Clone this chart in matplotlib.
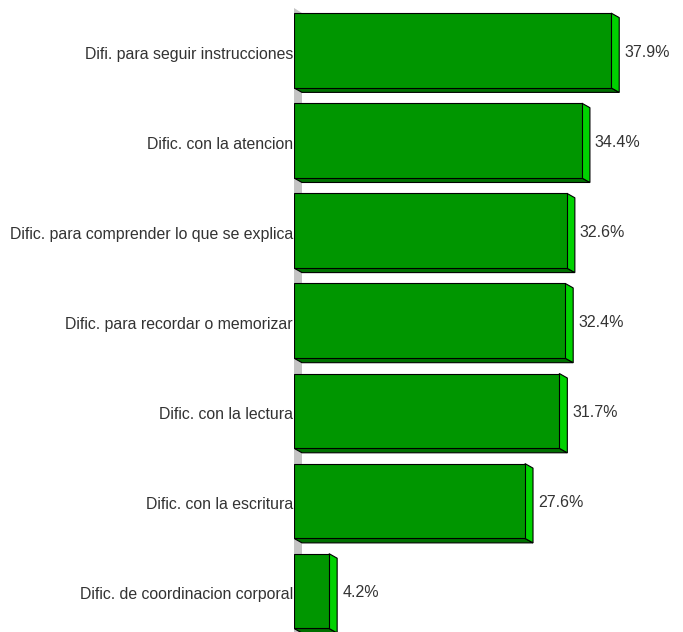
import matplotlib
matplotlib.use("Agg")
import matplotlib.pyplot as plt
from matplotlib.patches import Polygon, Rectangle

categorias = [
    "Difi. para seguir instrucciones",
    "Dific. con la atencion",
    "Dific. para comprender lo que se explica",
    "Dific. para recordar o memorizar",
    "Dific. con la lectura",
    "Dific. con la escritura",
    "Dific. de coordinacion corporal",
]
porcentajes = [37.9, 34.4, 32.6, 32.4, 31.7, 27.6, 4.2]

plt.rcParams["font.family"] = ["Liberation Sans", "DejaVu Sans"]

W, H = 683, 632
fig = plt.figure(figsize=(W / 100, H / 100), dpi=100)
# ejes: x=0 en el pixel 294, alto completo
ax = fig.add_axes([294 / W, 0, 1 - 294 / W, 1])
px_x = 8.37          # pixeles por punto porcentual
px_y = 90.1          # pixeles por categoria
ax.set_xlim(0, (W - 294) / px_x)
ax.set_ylim((H - 50.5) / px_y, -50.5 / px_y)
ax.axis("off")

alto = 0.83
dx = 8 / px_x        # profundidad 3D
dy = 4.5 / px_y

frente = "#009600"
lado = "#00d200"
base = "#007000"

# pared gris de fondo
pared = Polygon([(0, 8 / px_y - 50.5 / px_y), (dx, 13 / px_y - 50.5 / px_y),
                 (dx, (H - 50.5) / px_y), (0, (H - 50.5) / px_y)],
                closed=True, facecolor="#c4c4c4", edgecolor="none", zorder=1)
ax.add_patch(pared)

for i, (cat, v) in enumerate(zip(categorias, porcentajes)):
    top = i - alto / 2
    bot = i + alto / 2
    ax.add_patch(Polygon([(0, bot), (v, bot), (v + dx, bot + dy), (dx, bot + dy)],
                         closed=True, facecolor=base, edgecolor="black", lw=0.8, zorder=2))
    ax.add_patch(Polygon([(v, top), (v + dx, top + dy), (v + dx, bot + dy), (v, bot)],
                         closed=True, facecolor=lado, edgecolor="black", lw=0.8, zorder=2))
    ax.add_patch(Rectangle((0, top), v, alto, facecolor=frente,
                           edgecolor="black", lw=0.8, zorder=3))
    ax.text(v + dx + 0.6, i + 0.02, f"{v:.1f}%", ha="left", va="center",
            fontsize=11.5, color="#333333", zorder=4)
    ax.text(-0.12, i + 0.04, cat, ha="right", va="center", fontsize=11.4,
            color="#333333", clip_on=False, zorder=4)

fig.savefig("out.png", dpi=100)
